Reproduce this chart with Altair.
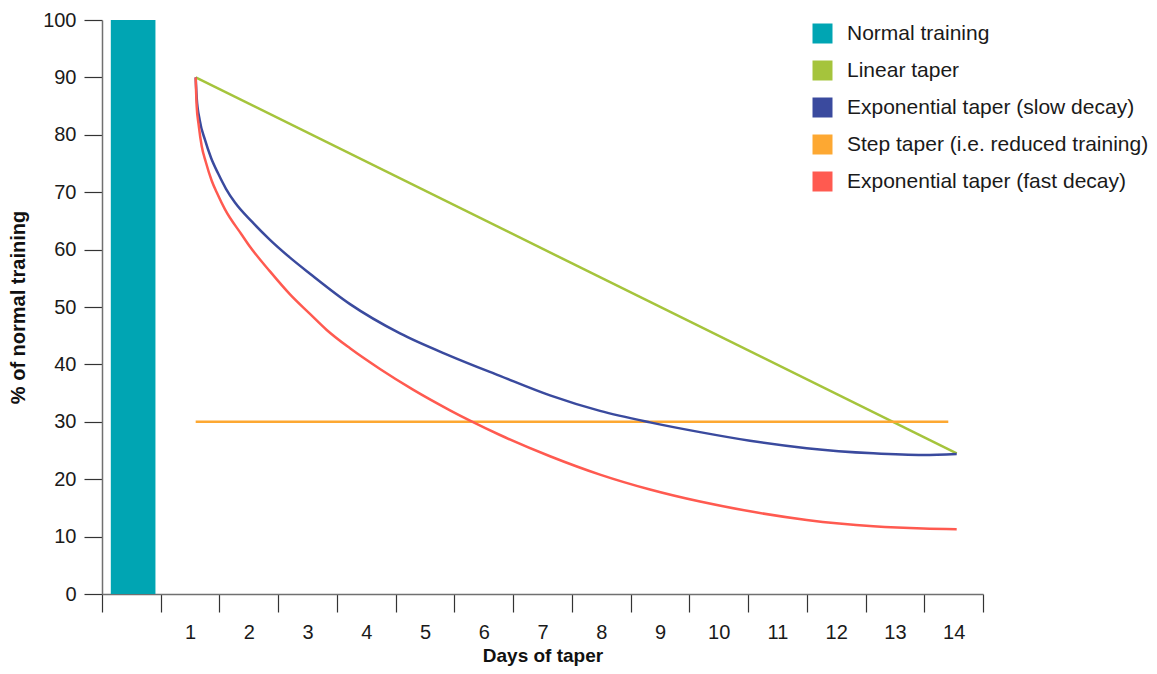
import altair as alt
import pandas as pd

# ---- data ----
series_names = [
    "Normal training",
    "Linear taper",
    "Exponential taper (slow decay)",
    "Step taper (i.e. reduced training)",
    "Exponential taper (fast decay)",
]
series_colors = ["#00A5B3", "#A5C43C", "#3A4A9E", "#FDA832", "#FF5A50"]

# Normal training bar (day 0 cell)
normal_x = [-0.35]
normal_x2 = [0.41]
normal_y = [100]

# Linear taper
linear_x = [1.095, 14.052]
linear_y = [90, 24.5]

# Step taper
step_x = [1.095, 13.909]
step_y = [30, 30]

# Exponential taper (slow decay)
slow_x = [1.095, 1.112, 1.163, 1.254, 1.356, 1.480, 1.611, 1.764, 2.049, 2.360,
          2.701, 3.041, 3.723, 4.574, 5.425, 6.276, 7.128, 7.979, 8.830, 9.682,
          10.533, 11.498, 12.632, 13.484, 14.052]
slow_y = [90, 86.5, 82.6, 79.1, 76.0, 73.2, 70.6, 68.2, 64.9, 61.7,
          58.6, 55.8, 50.5, 45.4, 41.5, 38.0, 34.6, 31.9, 29.9, 28.2,
          26.7, 25.4, 24.5, 24.2, 24.4]

# Exponential taper (fast decay)
fast_x = [1.095, 1.112, 1.146, 1.198, 1.266, 1.368, 1.470, 1.594, 1.879, 2.020,
          2.360, 2.701, 3.041, 3.326, 3.723, 4.233, 4.795, 5.425, 5.766, 6.276,
          7.128, 7.979, 8.830, 9.682, 10.533, 11.498, 12.632, 13.484, 14.052]
fast_y = [90, 85.0, 81.7, 78.0, 75.3, 72.0, 69.6, 67.0, 62.6, 60.5,
          56.2, 52.2, 48.8, 46.0, 42.8, 39.2, 35.6, 32.0, 30.2, 27.7,
          24.0, 20.8, 18.2, 16.1, 14.4, 12.9, 11.8, 11.4, 11.3]

tick_values = [i - 0.5 for i in range(16)]
y_ticks = list(range(0, 101, 10))

FONT = "Liberation Sans"

color_scale = alt.Scale(domain=series_names, range=series_colors)
x_scale = alt.Scale(domain=[-0.5, 14.5], nice=False, zero=False)
y_scale = alt.Scale(domain=[0, 100], nice=False)

x_axis = alt.Axis(
    values=tick_values,
    labelExpr="datum.value >= 0.5 && datum.value <= 13.5 ? format(datum.value + 0.5, 'd') : ''",
    labelOffset=29.37,
    labelFlush=False,
    labelOverlap=False,
    tickSize=18,
    labelPadding=10,
    grid=False,
    title="Days of taper",
    titlePadding=4,
    titleFontSize=19,
)
y_axis = alt.Axis(
    values=y_ticks,
    tickSize=18,
    labelPadding=8,
    grid=False,
    title="% of normal training",
    titlePadding=14,
)

bar_df = pd.DataFrame({"x": normal_x, "x2": normal_x2, "y": normal_y,
                       "y0": [0], "series": [series_names[0]]})

bar = alt.Chart(bar_df).mark_rect().encode(
    x=alt.X("x:Q", scale=x_scale, axis=x_axis),
    x2="x2:Q",
    y=alt.Y("y:Q", scale=y_scale, axis=y_axis),
    y2="y0:Q",
    color=alt.Color(
        "series:N",
        scale=color_scale,
        legend=alt.Legend(
            orient="none",
            legendX=710,
            legendY=3,
            title=None,
            symbolType="square",
            symbolSize=400,
            symbolStrokeWidth=0,
            labelFontSize=21,
            labelFont=FONT,
            labelColor="#1a1a1a",
            labelOffset=14,
            rowPadding=15,
            padding=0,
            labelLimit=420,
        ),
    ),
)


def line_layer(xs, ys, name, interp):
    df = pd.DataFrame({"x": xs, "y": ys, "series": [name] * len(xs),
                       "o": list(range(len(xs)))})
    return alt.Chart(df).mark_line(strokeWidth=2.5, interpolate=interp).encode(
        x=alt.X("x:Q", scale=x_scale),
        y=alt.Y("y:Q", scale=y_scale),
        order="o:Q",
        color=alt.Color("series:N", scale=color_scale, legend=None),
    )


lin = line_layer(linear_x, linear_y, series_names[1], "linear")
step = line_layer(step_x, step_y, series_names[3], "linear")
slow = line_layer(slow_x, slow_y, series_names[2], "monotone")
fast = line_layer(fast_x, fast_y, series_names[4], "monotone")

chart = alt.layer(bar, lin, step, slow, fast).properties(
    width=881,
    height=574,
    autosize=alt.AutoSizeParams(type="none"),
    padding={"left": 94, "top": 12, "right": 166, "bottom": 72},
).configure_view(stroke=None).configure_axis(
    labelFont=FONT,
    titleFont=FONT,
    labelFontSize=20,
    titleFontSize=20,
    titleFontWeight="bold",
    labelColor="#1a1a1a",
    titleColor="#111111",
    domainColor="#707070",
    tickColor="#333333",
    domainWidth=1.5,
    tickWidth=1.2,
)

chart.save("out.html", embed_options={"renderer": "svg", "actions": False})
